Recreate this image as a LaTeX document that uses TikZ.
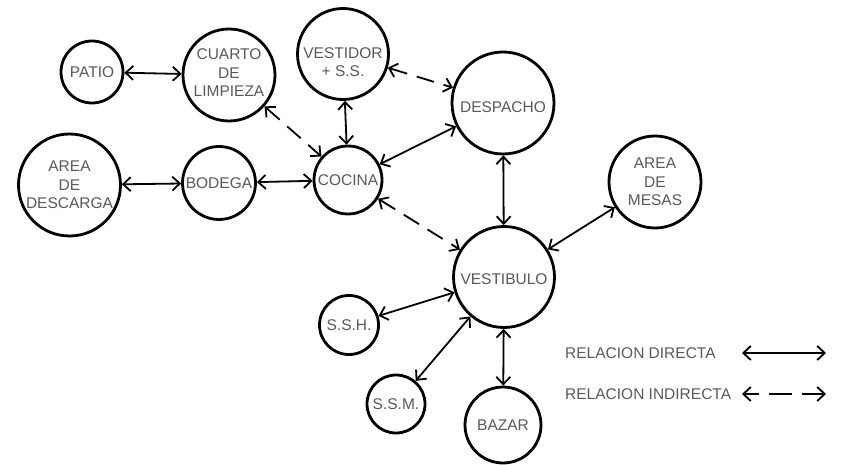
\documentclass[tikz,border=0pt]{standalone}
\usepackage{fontspec}
\setmainfont{Liberation Sans}
\usetikzlibrary{arrows.meta}
\begin{document}
\begin{tikzpicture}[x=1pt,y=-1pt,
  room/.style={circle,draw,line width=2.8pt,inner sep=0pt,minimum size=#1},
  txt/.style={align=center,text=black!65,inner sep=0pt,font=\fontsize{15.5}{18.5}\selectfont},
  rel/.style={line width=1.8pt,{Straight Barb[length=7.5pt,width=14pt]}-{Straight Barb[length=7.5pt,width=14pt]}},
  ind/.style={rel,dash pattern=on 18pt off 10pt}]
\useasboundingbox (0,0) rectangle (841,465);
\fill[white] (0,0) rectangle (841,465);

\node[room=62pt,label={[txt]center:PATIO}] (patio) at (92,72) {};
\node[room=92pt,label={[txt,yshift=2pt]center:CUARTO\\DE\\LIMPIEZA}] (cuarto) at (229,75) {};
\node[room=102pt,label={[txt]center:AREA\\DE\\DESCARGA}] (descarga) at (69.5,185) {};
\node[room=73pt,label={[txt]center:BODEGA}] (bodega) at (219,183) {};
\node[room=91pt,label={[txt,yshift=-8pt]center:VESTIDOR\\+ S.S.}] (vestidor) at (343,54) {};
\node[room=102pt,label={[txt,yshift=-4pt]center:DESPACHO}] (despacho) at (503,103) {};
\node[room=68pt,label={[txt]center:COCINA}] (cocina) at (348,180) {};
\node[room=101pt,label={[txt,yshift=-2pt]center:VESTIBULO}] (vestibulo) at (504,277) {};
\node[room=59pt,label={[txt]center:S.S.H.}] (ssh) at (349,325) {};
\node[room=58pt,label={[txt]center:S.S.M.}] (ssm) at (396,404) {};
\node[room=76pt,label={[txt]center:BAZAR}] (bazar) at (503,425) {};
\node[room=92pt,label={[txt]center:AREA\\DE\\MESAS}] (mesas) at (655,182) {};

\draw[rel] (patio) -- (cuarto);
\draw[rel] (descarga) -- (bodega);
\draw[rel] (bodega) -- (cocina);
\draw[ind] (cuarto) -- (cocina);
\draw[rel] (vestidor) -- (cocina);
\draw[ind] (vestidor) -- (despacho);
\draw[rel] (cocina) -- (despacho);
\draw[rel] (despacho) -- (vestibulo);
\draw[ind] (cocina) -- (vestibulo);
\draw[rel] (mesas) -- (vestibulo);
\draw[rel] (vestibulo) -- (ssh);
\draw[rel] (vestibulo) -- (ssm);
\draw[rel] (vestibulo) -- (bazar);

\node[txt,anchor=west] (ld) at (565,353) {RELACION DIRECTA};
\node[txt,anchor=west] (li) at (565,394) {RELACION INDIRECTA};
\coordinate (d1) at (742,353);
\coordinate (d2) at (826,353);
\coordinate (i1) at (742,394);
\coordinate (i2) at (826,394);
\draw[rel] (d1) -- (d2);
\draw[rel,dash pattern=on 15pt off 10pt on 23pt off 10pt on 40pt] (i1) -- (i2);
\end{tikzpicture}
\end{document}
